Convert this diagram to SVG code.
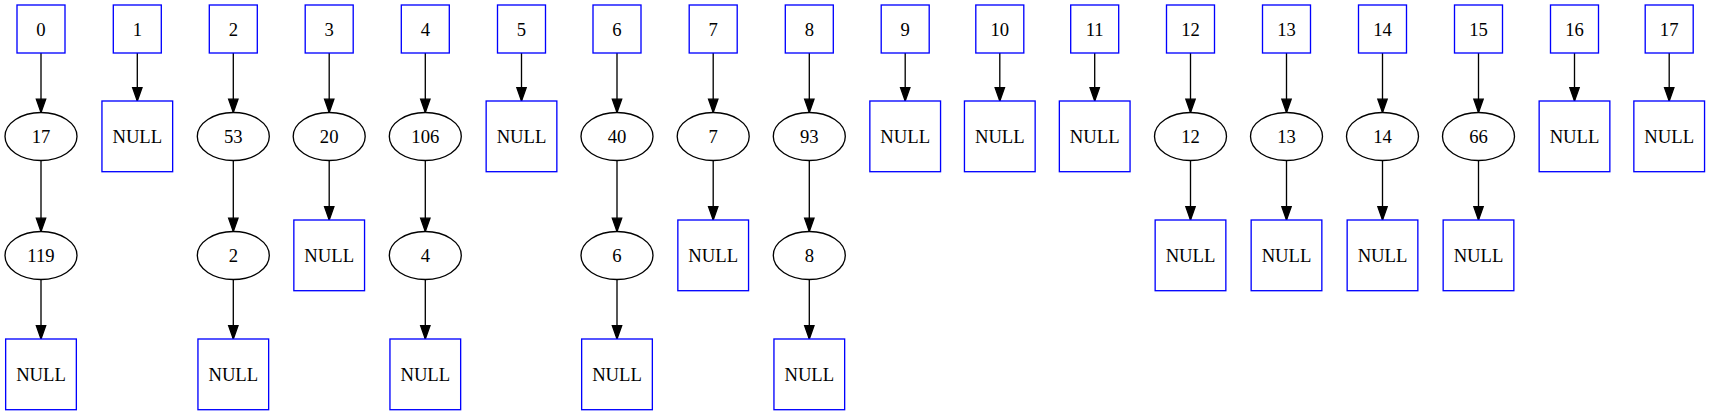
<svg xmlns="http://www.w3.org/2000/svg" width="1710" height="415" viewBox="0 0 1710 415">
<style>
.bx{fill:#fff;stroke:#0000ff;stroke-width:1.33}
.el{fill:#fff;stroke:#000;stroke-width:1.33}
.t{font-family:"Liberation Serif","Times New Roman",serif;font-size:18.67px;text-anchor:middle;fill:#000}
.e{stroke:#000;stroke-width:1.33;fill:none;marker-end:url(#ah)}
</style>
<defs>
<marker id="ah" markerUnits="userSpaceOnUse" markerWidth="14" markerHeight="10" refX="13.33" refY="4.67" orient="auto" viewBox="0 0 14 10" overflow="visible">
<path d="M0,0 L13.33,4.67 L0,9.33 Z" fill="#000" stroke="#000" stroke-width="1.33"/>
</marker>
</defs>
<rect width="1710" height="415" fill="#fff"/>
<g id="connectors">
<line class="e" x1="41" y1="53" x2="41" y2="112.5"/>
<line class="e" x1="41" y1="160.5" x2="41" y2="231.5"/>
<line class="e" x1="41" y1="279.5" x2="41" y2="339"/>
<line class="e" x1="137.3" y1="53" x2="137.3" y2="101"/>
<line class="e" x1="233.3" y1="53" x2="233.3" y2="112.5"/>
<line class="e" x1="233.3" y1="160.5" x2="233.3" y2="231.5"/>
<line class="e" x1="233.3" y1="279.5" x2="233.3" y2="339"/>
<line class="e" x1="329.2" y1="53" x2="329.2" y2="112.5"/>
<line class="e" x1="329.2" y1="160.5" x2="329.2" y2="220"/>
<line class="e" x1="425.3" y1="53" x2="425.3" y2="112.5"/>
<line class="e" x1="425.3" y1="160.5" x2="425.3" y2="231.5"/>
<line class="e" x1="425.3" y1="279.5" x2="425.3" y2="339"/>
<line class="e" x1="521.5" y1="53" x2="521.5" y2="101"/>
<line class="e" x1="617" y1="53" x2="617" y2="112.5"/>
<line class="e" x1="617" y1="160.5" x2="617" y2="231.5"/>
<line class="e" x1="617" y1="279.5" x2="617" y2="339"/>
<line class="e" x1="713.2" y1="53" x2="713.2" y2="112.5"/>
<line class="e" x1="713.2" y1="160.5" x2="713.2" y2="220"/>
<line class="e" x1="809.3" y1="53" x2="809.3" y2="112.5"/>
<line class="e" x1="809.3" y1="160.5" x2="809.3" y2="231.5"/>
<line class="e" x1="809.3" y1="279.5" x2="809.3" y2="339"/>
<line class="e" x1="905.2" y1="53" x2="905.2" y2="101"/>
<line class="e" x1="999.8" y1="53" x2="999.8" y2="101"/>
<line class="e" x1="1094.7" y1="53" x2="1094.7" y2="101"/>
<line class="e" x1="1190.5" y1="53" x2="1190.5" y2="112.5"/>
<line class="e" x1="1190.5" y1="160.5" x2="1190.5" y2="220"/>
<line class="e" x1="1286.5" y1="53" x2="1286.5" y2="112.5"/>
<line class="e" x1="1286.5" y1="160.5" x2="1286.5" y2="220"/>
<line class="e" x1="1382.5" y1="53" x2="1382.5" y2="112.5"/>
<line class="e" x1="1382.5" y1="160.5" x2="1382.5" y2="220"/>
<line class="e" x1="1478.5" y1="53" x2="1478.5" y2="112.5"/>
<line class="e" x1="1478.5" y1="160.5" x2="1478.5" y2="220"/>
<line class="e" x1="1574.5" y1="53" x2="1574.5" y2="101"/>
<line class="e" x1="1669.2" y1="53" x2="1669.2" y2="101"/>
</g>
<!-- column 0 -->
<g id="k0"><rect class="bx" x="17" y="5" width="48" height="48"/><text class="t" x="41" y="35.5">0</text></g>
<g id="v0a"><ellipse class="el" cx="41" cy="136.5" rx="36" ry="24"/><text class="t" x="41" y="143">17</text></g>
<g id="v0b"><ellipse class="el" cx="41" cy="255.5" rx="36" ry="24"/><text class="t" x="41" y="262">119</text></g>
<g id="n0"><rect class="bx" x="5.65" y="339" width="70.7" height="70.7"/><text class="t" x="41" y="381">NULL</text></g>
<!-- column 1 -->
<g id="k1"><rect class="bx" x="113.3" y="5" width="48" height="48"/><text class="t" x="137.3" y="35.5">1</text></g>
<g id="n1"><rect class="bx" x="101.95" y="101" width="70.7" height="70.7"/><text class="t" x="137.3" y="143">NULL</text></g>
<!-- column 2 -->
<g id="k2"><rect class="bx" x="209.3" y="5" width="48" height="48"/><text class="t" x="233.3" y="35.5">2</text></g>
<g id="v2a"><ellipse class="el" cx="233.3" cy="136.5" rx="36" ry="24"/><text class="t" x="233.3" y="143">53</text></g>
<g id="v2b"><ellipse class="el" cx="233.3" cy="255.5" rx="36" ry="24"/><text class="t" x="233.3" y="262">2</text></g>
<g id="n2"><rect class="bx" x="197.95" y="339" width="70.7" height="70.7"/><text class="t" x="233.3" y="381">NULL</text></g>
<!-- column 3 -->
<g id="k3"><rect class="bx" x="305.2" y="5" width="48" height="48"/><text class="t" x="329.2" y="35.5">3</text></g>
<g id="v3a"><ellipse class="el" cx="329.2" cy="136.5" rx="36" ry="24"/><text class="t" x="329.2" y="143">20</text></g>
<g id="n3"><rect class="bx" x="293.85" y="220" width="70.7" height="70.7"/><text class="t" x="329.2" y="262">NULL</text></g>
<!-- column 4 -->
<g id="k4"><rect class="bx" x="401.3" y="5" width="48" height="48"/><text class="t" x="425.3" y="35.5">4</text></g>
<g id="v4a"><ellipse class="el" cx="425.3" cy="136.5" rx="36" ry="24"/><text class="t" x="425.3" y="143">106</text></g>
<g id="v4b"><ellipse class="el" cx="425.3" cy="255.5" rx="36" ry="24"/><text class="t" x="425.3" y="262">4</text></g>
<g id="n4"><rect class="bx" x="389.95" y="339" width="70.7" height="70.7"/><text class="t" x="425.3" y="381">NULL</text></g>
<!-- column 5 -->
<g id="k5"><rect class="bx" x="497.5" y="5" width="48" height="48"/><text class="t" x="521.5" y="35.5">5</text></g>
<g id="n5"><rect class="bx" x="486.15" y="101" width="70.7" height="70.7"/><text class="t" x="521.5" y="143">NULL</text></g>
<!-- column 6 -->
<g id="k6"><rect class="bx" x="593" y="5" width="48" height="48"/><text class="t" x="617" y="35.5">6</text></g>
<g id="v6a"><ellipse class="el" cx="617" cy="136.5" rx="36" ry="24"/><text class="t" x="617" y="143">40</text></g>
<g id="v6b"><ellipse class="el" cx="617" cy="255.5" rx="36" ry="24"/><text class="t" x="617" y="262">6</text></g>
<g id="n6"><rect class="bx" x="581.65" y="339" width="70.7" height="70.7"/><text class="t" x="617" y="381">NULL</text></g>
<!-- column 7 -->
<g id="k7"><rect class="bx" x="689.2" y="5" width="48" height="48"/><text class="t" x="713.2" y="35.5">7</text></g>
<g id="v7a"><ellipse class="el" cx="713.2" cy="136.5" rx="36" ry="24"/><text class="t" x="713.2" y="143">7</text></g>
<g id="n7"><rect class="bx" x="677.85" y="220" width="70.7" height="70.7"/><text class="t" x="713.2" y="262">NULL</text></g>
<!-- column 8 -->
<g id="k8"><rect class="bx" x="785.3" y="5" width="48" height="48"/><text class="t" x="809.3" y="35.5">8</text></g>
<g id="v8a"><ellipse class="el" cx="809.3" cy="136.5" rx="36" ry="24"/><text class="t" x="809.3" y="143">93</text></g>
<g id="v8b"><ellipse class="el" cx="809.3" cy="255.5" rx="36" ry="24"/><text class="t" x="809.3" y="262">8</text></g>
<g id="n8"><rect class="bx" x="773.95" y="339" width="70.7" height="70.7"/><text class="t" x="809.3" y="381">NULL</text></g>
<!-- column 9 -->
<g id="k9"><rect class="bx" x="881.2" y="5" width="48" height="48"/><text class="t" x="905.2" y="35.5">9</text></g>
<g id="n9"><rect class="bx" x="869.85" y="101" width="70.7" height="70.7"/><text class="t" x="905.2" y="143">NULL</text></g>
<!-- column 10 -->
<g id="k10"><rect class="bx" x="975.8" y="5" width="48" height="48"/><text class="t" x="999.8" y="35.5">10</text></g>
<g id="n10"><rect class="bx" x="964.45" y="101" width="70.7" height="70.7"/><text class="t" x="999.8" y="143">NULL</text></g>
<!-- column 11 -->
<g id="k11"><rect class="bx" x="1070.7" y="5" width="48" height="48"/><text class="t" x="1094.7" y="35.5">11</text></g>
<g id="n11"><rect class="bx" x="1059.35" y="101" width="70.7" height="70.7"/><text class="t" x="1094.7" y="143">NULL</text></g>
<!-- column 12 -->
<g id="k12"><rect class="bx" x="1166.5" y="5" width="48" height="48"/><text class="t" x="1190.5" y="35.5">12</text></g>
<g id="v12a"><ellipse class="el" cx="1190.5" cy="136.5" rx="36" ry="24"/><text class="t" x="1190.5" y="143">12</text></g>
<g id="n12"><rect class="bx" x="1155.15" y="220" width="70.7" height="70.7"/><text class="t" x="1190.5" y="262">NULL</text></g>
<!-- column 13 -->
<g id="k13"><rect class="bx" x="1262.5" y="5" width="48" height="48"/><text class="t" x="1286.5" y="35.5">13</text></g>
<g id="v13a"><ellipse class="el" cx="1286.5" cy="136.5" rx="36" ry="24"/><text class="t" x="1286.5" y="143">13</text></g>
<g id="n13"><rect class="bx" x="1251.15" y="220" width="70.7" height="70.7"/><text class="t" x="1286.5" y="262">NULL</text></g>
<!-- column 14 -->
<g id="k14"><rect class="bx" x="1358.5" y="5" width="48" height="48"/><text class="t" x="1382.5" y="35.5">14</text></g>
<g id="v14a"><ellipse class="el" cx="1382.5" cy="136.5" rx="36" ry="24"/><text class="t" x="1382.5" y="143">14</text></g>
<g id="n14"><rect class="bx" x="1347.15" y="220" width="70.7" height="70.7"/><text class="t" x="1382.5" y="262">NULL</text></g>
<!-- column 15 -->
<g id="k15"><rect class="bx" x="1454.5" y="5" width="48" height="48"/><text class="t" x="1478.5" y="35.5">15</text></g>
<g id="v15a"><ellipse class="el" cx="1478.5" cy="136.5" rx="36" ry="24"/><text class="t" x="1478.5" y="143">66</text></g>
<g id="n15"><rect class="bx" x="1443.15" y="220" width="70.7" height="70.7"/><text class="t" x="1478.5" y="262">NULL</text></g>
<!-- column 16 -->
<g id="k16"><rect class="bx" x="1550.5" y="5" width="48" height="48"/><text class="t" x="1574.5" y="35.5">16</text></g>
<g id="n16"><rect class="bx" x="1539.15" y="101" width="70.7" height="70.7"/><text class="t" x="1574.5" y="143">NULL</text></g>
<!-- column 17 -->
<g id="k17"><rect class="bx" x="1645.2" y="5" width="48" height="48"/><text class="t" x="1669.2" y="35.5">17</text></g>
<g id="n17"><rect class="bx" x="1633.85" y="101" width="70.7" height="70.7"/><text class="t" x="1669.2" y="143">NULL</text></g>
</svg>
